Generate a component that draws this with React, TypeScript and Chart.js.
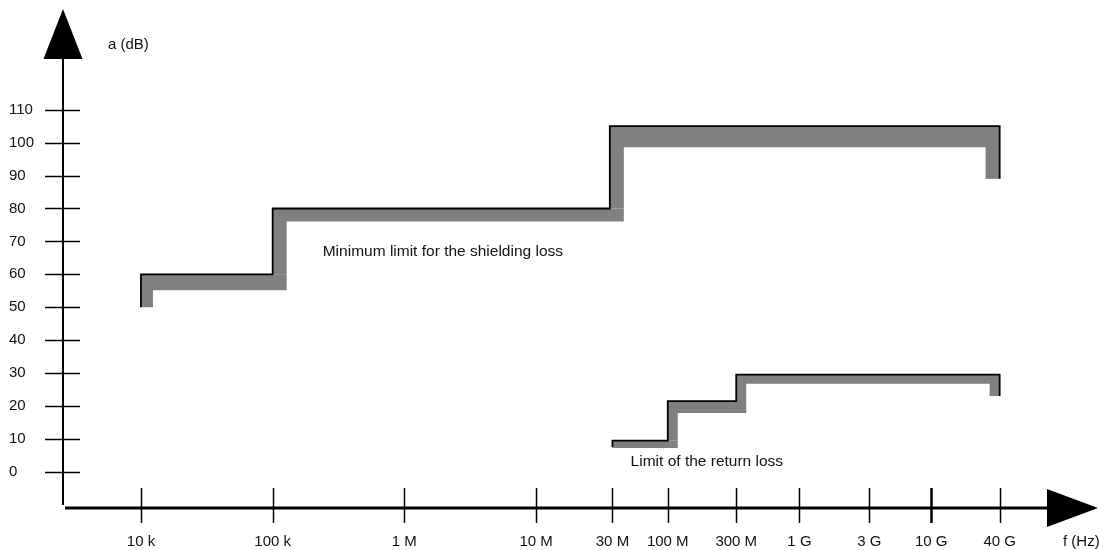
import React, { useEffect, useRef } from "react";
import { Chart, registerables } from "chart.js";

Chart.register(...registerables);
Chart.defaults.font.family = "'Liberation Sans', Arial, Helvetica, sans-serif";

// Axis ticks (x positions are in "decade" units as laid out in the picture)
const xTickPositions = [4, 5, 6, 7, 7.58, 8, 8.52, 9, 9.53, 10, 10.52];
const xTickLabels = ["10 k", "100 k", "1 M", "10 M", "30 M", "100 M", "300 M", "1 G", "3 G", "10 G", "40 G"];
const yTickValues = [0, 10, 20, 30, 40, 50, 60, 70, 80, 90, 100, 110];

// Minimum limit for the shielding loss (step corners)
const shieldingX = [4, 4, 5, 5, 7.56, 7.56, 10.52, 10.52];
const shieldingY = [50, 60, 60, 80, 80, 105, 105, 89];

// Limit of the return loss (step corners)
const returnLossX = [7.58, 7.58, 8, 8, 8.52, 8.52, 10.52, 10.52];
const returnLossY = [7.5, 9.5, 9.5, 21.5, 21.5, 29.5, 29.5, 23];

// Annotation texts and their anchor (data units)
const shieldingLabel = { text: "Minimum limit for the shielding loss", x: 5.38, y: 66.9 };
const returnLossLabel = { text: "Limit of the return loss", x: 7.718, y: 3.07 };

// Styles
const BAND_COLOR = "#808080";
const shieldingBand = [12, 16, 14, 13, 14, 21, 14];
const returnLossBand = [9, 7.5, 10, 12, 10, 9, 10];
const TEXT_COLOR = "#111111";
const FONT_SIZE = 15;
const NOTE_FONT_SIZE = 15.5;

const toPoints = (xs: number[], ys: number[]) => xs.map((x, i) => ({ x, y: ys[i] }));

const bandPlugin = {
  id: "stepBands",
  beforeDatasetsDraw(chart: any) {
    const ctx = chart.ctx;
    chart.data.datasets.forEach((ds: any, di: number) => {
      const meta = chart.getDatasetMeta(di);
      const pts = meta.data.map((p: any) => ({ x: p.x, y: p.y }));
      const widths: number[] = ds.bandWidths || [];
      ctx.save();
      ctx.fillStyle = ds.bandColor || BAND_COLOR;
      for (let i = 0; i < pts.length - 1; i++) {
        const a = pts[i];
        const b = pts[i + 1];
        const len = Math.hypot(b.x - a.x, b.y - a.y);
        if (!len) continue;
        const d = { x: (b.x - a.x) / len, y: (b.y - a.y) / len };
        const n = { x: -d.y, y: d.x };
        const t = widths[i] ?? 12;
        let ext = 0;
        if (i + 2 < pts.length) {
          const c = pts[i + 2];
          const l2 = Math.hypot(c.x - b.x, c.y - b.y);
          if (l2) {
            const d2 = { x: (c.x - b.x) / l2, y: (c.y - b.y) / l2 };
            const cross = d.x * d2.y - d.y * d2.x;
            if (cross < 0) ext = widths[i + 1] ?? 12;
          }
        }
        const e = { x: b.x + d.x * ext, y: b.y + d.y * ext };
        ctx.beginPath();
        ctx.moveTo(a.x, a.y);
        ctx.lineTo(e.x, e.y);
        ctx.lineTo(e.x + n.x * t, e.y + n.y * t);
        ctx.lineTo(a.x + n.x * t, a.y + n.y * t);
        ctx.closePath();
        ctx.fill();
      }
      ctx.restore();
    });
  },
};

const axesPlugin = {
  id: "arrowAxes",
  afterDraw(chart: any) {
    const ctx = chart.ctx;
    const area = chart.chartArea;
    const xs = chart.scales.x;
    const ys = chart.scales.y;
    const ax = area.left;
    const ay = area.bottom;
    ctx.save();
    ctx.strokeStyle = "#000";
    ctx.fillStyle = "#000";

    // y axis line + arrow
    const yArrowTip = area.top - 2;
    const yArrowBase = yArrowTip + 50;
    ctx.lineWidth = 2;
    ctx.beginPath();
    ctx.moveTo(ax, ay - 3);
    ctx.lineTo(ax, yArrowBase);
    ctx.stroke();
    ctx.beginPath();
    ctx.moveTo(ax, yArrowTip);
    ctx.lineTo(ax - 19.5, yArrowBase);
    ctx.lineTo(ax + 19.5, yArrowBase);
    ctx.closePath();
    ctx.fill();

    // x axis line + arrow
    const xArrowTip = area.right - 2;
    const xArrowBase = xArrowTip - 51;
    ctx.lineWidth = 3;
    ctx.beginPath();
    ctx.moveTo(ax + 2, ay);
    ctx.lineTo(xArrowBase, ay);
    ctx.stroke();
    ctx.beginPath();
    ctx.moveTo(xArrowTip, ay);
    ctx.lineTo(xArrowBase, ay - 19);
    ctx.lineTo(xArrowBase, ay + 19);
    ctx.closePath();
    ctx.fill();

    // y tick marks crossing the axis
    ctx.lineWidth = 1.5;
    yTickValues.forEach((v) => {
      const py = Math.round(ys.getPixelForValue(v)) + 0.5;
      ctx.beginPath();
      ctx.moveTo(ax - 18, py);
      ctx.lineTo(ax + 17, py);
      ctx.stroke();
    });

    // x tick marks crossing the axis
    xTickPositions.forEach((v, i) => {
      const px = Math.round(xs.getPixelForValue(v)) + 0.5;
      ctx.lineWidth = xTickLabels[i] === "10 G" ? 2.5 : 1.5;
      ctx.beginPath();
      ctx.moveTo(px, ay - 20);
      ctx.lineTo(px, ay + 15);
      ctx.stroke();
    });

    // axis titles
    ctx.fillStyle = TEXT_COLOR;
    ctx.font = `${FONT_SIZE}px 'Liberation Sans', Arial, sans-serif`;
    ctx.textAlign = "left";
    ctx.textBaseline = "middle";
    ctx.fillText("a (dB)", ax + 45, area.top + 34);
    ctx.fillText("f (Hz)", area.right - 37, ay + 34);

    // annotations
    ctx.font = `${NOTE_FONT_SIZE}px 'Liberation Sans', Arial, sans-serif`;
    [shieldingLabel, returnLossLabel].forEach((l) => {
      ctx.fillText(l.text, xs.getPixelForValue(l.x), ys.getPixelForValue(l.y));
    });
    ctx.restore();
  },
};

export default function App() {
  const ref = useRef<HTMLCanvasElement>(null);
  useEffect(() => {
    if (!ref.current) return;
    const chart = new Chart(ref.current, {
      type: "line",
      data: {
        datasets: [
          {
            label: "Minimum limit for the shielding loss",
            data: toPoints(shieldingX, shieldingY),
            borderColor: "#000",
            borderWidth: 1.8,
            pointRadius: 0,
            fill: false,
            tension: 0,
            borderJoinStyle: "miter",
            borderCapStyle: "butt",
            clip: false,
            bandWidths: shieldingBand,
            bandColor: BAND_COLOR,
          } as any,
          {
            label: "Limit of the return loss",
            data: toPoints(returnLossX, returnLossY),
            borderColor: "#000",
            borderWidth: 1.8,
            pointRadius: 0,
            fill: false,
            tension: 0,
            borderJoinStyle: "miter",
            borderCapStyle: "butt",
            clip: false,
            bandWidths: returnLossBand,
            bandColor: BAND_COLOR,
          } as any,
        ],
      },
      options: {
        responsive: false,
        animation: false,
        events: [],
        layout: { padding: { left: 1, top: 3, right: 9, bottom: 0 } },
        plugins: { legend: { display: false }, tooltip: { enabled: false } },
        scales: {
          x: {
            type: "linear",
            min: 3.408,
            max: 11.282,
            grid: { display: false, drawTicks: false },
            border: { display: false },
            afterBuildTicks: (s: any) => {
              s.ticks = xTickPositions.map((v) => ({ value: v }));
            },
            afterFit: (s: any) => {
              s.height = 42;
              s.paddingLeft = 0;
              s.paddingRight = 0;
            },
            ticks: {
              autoSkip: false,
              maxRotation: 0,
              minRotation: 0,
              padding: 25,
              color: TEXT_COLOR,
              font: { size: FONT_SIZE },
              callback: (v: any) => xTickLabels[xTickPositions.indexOf(Number(v))] ?? "",
            },
          },
          y: {
            type: "linear",
            min: -11,
            max: 140,
            grid: { display: false, drawTicks: false },
            border: { display: false },
            afterBuildTicks: (s: any) => {
              s.ticks = yTickValues.map((v) => ({ value: v }));
            },
            afterFit: (s: any) => {
              s.width = 54;
              s.paddingTop = 0;
              s.paddingBottom = 0;
            },
            ticks: {
              crossAlign: "far",
              padding: 0,
              color: TEXT_COLOR,
              font: { size: FONT_SIZE },
              callback: (v: any) => String(v),
            },
          },
        },
      },
      plugins: [bandPlugin, axesPlugin],
    } as any);
    return () => chart.destroy();
  }, []);
  return <canvas ref={ref} width={1101} height={542} style={{ display: "block" }} />;
}
